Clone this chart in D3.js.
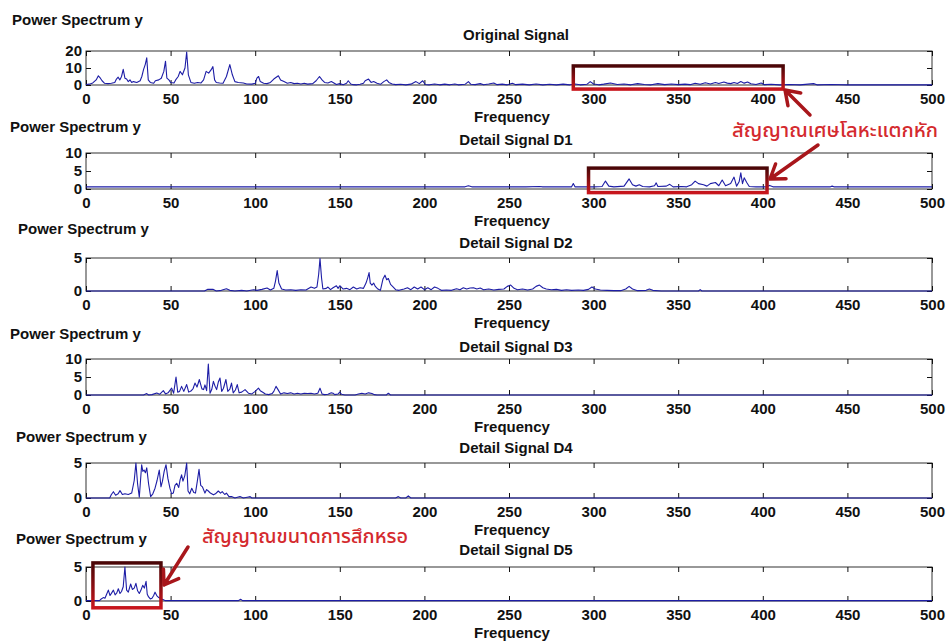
<!DOCTYPE html>
<html>
<head>
<meta charset="utf-8">
<script src="https://cdn.jsdelivr.net/npm/d3@7"></script>
<style>
  body { margin: 0; background: #fff; }
  text { font-family: "Liberation Sans", Arial, sans-serif; font-weight: bold; fill: #111; }
  text.thai { font-family: "Noto Sans Thai", "Noto Sans", "DejaVu Sans", sans-serif; font-weight: 500; fill: #d42a2e; }
</style>
</head>
<body>
<div id="chart"></div>
<script>
// ---- data ----
const freqTicks = [0, 50, 100, 150, 200, 250, 300, 350, 400, 450, 500];
const panelTitles = ['Original Signal', 'Detail Signal D1', 'Detail Signal D2', 'Detail Signal D3', 'Detail Signal D4', 'Detail Signal D5'];
const yMaxes = [20, 10, 5, 10, 5, 5];
const yTickValues = [[0, 10, 20], [0, 5, 10], [0, 5], [0, 5, 10], [0, 5], [0, 5]];

// [frequency, power]
const originalSignal = [[0,0.3],[2,0.5],[4,1.2],[6,3],[7.3,5.4],[8.5,4],[9.5,2.5],[11,1],[13,0.8],[15,1],[17,1.5],[18,3.5],[19,4.6],[20,3],[21,5],[22,9.2],[23,4],[24,3.5],[25,2],[26,3],[27,1.5],[28,2],[30,1.5],[32,2.5],[33,5],[34,9],[35,12],[35.9,16],[36.8,3],[38,1.5],[40,1],[41,2.5],[43,3],[44.5,4],[46,8],[47,14],[47.8,4],[49,3],[50,1.5],[52,1.2],[53,3],[54.5,5],[55.6,8],[57,6],[58.5,10],[59.5,19.4],[60.5,6],[62,1.5],[64,1],[66,1.5],[68,1.2],[69.5,3],[71,8],[72.5,7],[74,9],[75,10.8],[76,3],[77,1.5],[79,1.2],[81,1],[83,5],[85,12],[86.5,6],[88,2],[90,1.5],[93,1.2],[95,0.6],[98,0.5],[100,1],[101,4],[102,5],[103,2],[105,1],[107,0.8],[109,1.5],[111,3.5],[113.7,5.4],[115,3],[117,2],[119,1],[121,1.5],[123,0.8],[125,1],[127,0.6],[129,1],[131,0.5],[134,0.8],[136,2.5],[138,5],[139.5,3],[141,1.5],[143,1.2],[145,2],[146,1.5],[148,0.3],[150,0.8],[152,0.2],[154,1],[155,2.5],[156.5,0.6],[158,0.2],[160,0.1],[162,0.4],[164,1],[165,2.5],[167,3.5],[168.5,1.5],[170,2],[172,1],[174,0.4],[176,2],[177.7,3],[179,1.5],[181,0.6],[183,0.2],[186,0.4],[189,0.1],[192,0.5],[195,2],[197,0.8],[199,2.5],[200.5,0.3],[203,0.1],[206,0.6],[209,0.1],[212,0.5],[215,0.1],[218,0.6],[220,0.1],[224,0.4],[226,2],[227.5,0.4],[230,0.2],[233,0.8],[235,0.1],[238,0.6],[241,1.2],[243,0.2],[246,0.5],[249,0.1],[252,1],[254,0.2],[258,0.5],[262,0.1],[266,0.6],[270,0.1],[274,0.4],[278,0.1],[282,0.5],[286,0.1],[289,0.6],[292,0.1],[296,0.4],[298,2],[300,0.6],[303,0.1],[306,0.5],[310,1.2],[314,0.3],[318,0.6],[322,0.1],[326,0.8],[330,0.3],[334,0.1],[338,0.8],[342,0.2],[346,0.6],[350,0.2],[354,0.5],[357,0.2],[360,1],[363,0.4],[366,1.3],[369,0.6],[372,1.5],[374,0.9],[377,1.8],[379,1.1],[381,0.8],[383,1.5],[385,0.9],[387,2],[389,1.1],[391,1.8],[393,0.7],[396,0.3],[399,1.2],[401,0.2],[405,0.4],[410,0.1],[416,0.3],[422,0.1],[430,0.8],[432,0.1],[440,0.3],[450,0.1],[470,0.1],[500,0.1]];

const detailD1 = [[0,0.6],[100,0.6],[224,0.6],[226,0.9],[228,0.6],[260,0.6],[268,0.7],[270,0.6],[287,0.6],[288,1.5],[289,0.6],[300,0.6],[305,0.7],[307,2.2],[309,0.8],[312,0.6],[318,0.8],[321,2.8],[323,1.2],[325,0.8],[327,1.2],[329,0.7],[333,0.6],[336,0.9],[337,1.7],[338,0.7],[343,0.8],[345,1.3],[347,0.6],[352,0.7],[355,0.6],[358,1.2],[360,2.2],[362,1.5],[365,1.2],[367,0.8],[369,1.5],[372,1.8],[374,0.9],[376,2.5],[378,0.9],[381,1.5],[383,3.3],[384.5,0.8],[386,2],[387,4.5],[388,1.5],[389,3.1],[390.5,1.8],[392,0.7],[396,0.6],[402,0.6],[404,1],[406,0.6],[440,0.6],[441,0.8],[442,0.6],[500,0.6]];

const detailD2 = [[0,0],[70,0],[72,0.25],[75,0.25],[77,0],[80,0.1],[83,0.35],[85,0.1],[88,0],[92,0.1],[95,0],[99,0.2],[101,0.1],[104,0.25],[107,0.45],[109,0.15],[111,0.4],[112,1.5],[113,3.1],[114,1.2],[115.6,0.3],[118,0.15],[121,0.2],[124,0.1],[127,0.2],[130,0.15],[133,0.6],[135,0.4],[136.5,0.6],[137.5,2.5],[138.3,4.9],[139.2,2],[140,0.3],[142,0.4],[143,0.6],[144.5,0.2],[146,0.5],[148,0.8],[149,0.4],[150,0.8],[152,0.3],[154,0.4],[156,0.2],[158,0.6],[160,0.3],[162,0.5],[164,0.4],[165.5,1.2],[166.5,2],[167.3,2.8],[168,1.2],[169,0.9],[170,1.2],[171,0.7],[172.5,0.3],[174,0.1],[175.5,1.8],[176.7,2.4],[177.7,1.7],[178.7,1.9],[180,1],[181.6,0.6],[183,0.2],[185,0.1],[188,0.3],[190,0.5],[192,0.2],[194,0.6],[196,0.3],[198,0.6],[200,0.2],[202,0.5],[204,0.2],[206,0.6],[208,0.4],[210,0.1],[213,0.15],[216,0.1],[219,0.35],[221,0.2],[223,0.5],[225,0.3],[227,0.45],[229,0.5],[231,0.3],[233,0.45],[235,0.2],[238,0.3],[241,0.15],[244,0.25],[247,0.3],[249,0.7],[251,0.9],[253,0.4],[255,0.2],[258,0.3],[261,0.15],[264,0.3],[266,0.7],[268,0.9],[270,0.5],[272,0.3],[275,0.2],[278,0.25],[281,0.1],[284,0.2],[287,0.1],[291,0.15],[294,0.1],[297,0.25],[299,0.6],[301,0.3],[304,0.15],[308,0.1],[312,0.05],[316,0.05],[319,0.3],[321,0.7],[323,0.3],[326,0.05],[331,0.1],[333,0.3],[335,0.1],[340,0],[362,0],[363,0.2],[364,0],[500,0]];

const detailD3 = [[0,0],[34,0],[35.9,0.4],[37,0],[39,0.1],[41.8,0.55],[43.5,0.2],[45.7,1.2],[47,0.3],[48.5,0.6],[50.6,1.9],[51.8,0.5],[53.2,5],[54.2,0.8],[55.3,1],[56.5,2.4],[57.8,1],[59.5,2.9],[60.7,0.8],[62,1.1],[63.3,1.8],[64.4,3.3],[65.6,2.2],[67,4.3],[68.5,1.7],[69.5,1.5],[70.3,2.8],[71.3,1.2],[72.3,8.6],[73.3,0.5],[74.3,1.5],[75.3,3.8],[76.3,2.4],[77.2,1.5],[78.2,3.6],[79.2,4.7],[80.2,1],[81.2,1.8],[82.7,4.3],[83.8,1],[85,1.6],[86,3.3],[87,0.6],[88.3,1.4],[89.4,2.9],[90.5,0.6],[92,0.8],[94,1.5],[96,0.5],[98,0.3],[100,1],[101.9,1.9],[103,1.2],[104.7,0.7],[106,0.3],[108,0.1],[110,0.4],[111,1],[112.3,2.4],[113.5,1.5],[115,0.3],[117,0.6],[119,0.4],[121,0.6],[123,0.3],[125,0.5],[127,0.3],[129,0.5],[131,0.4],[133,0.5],[135,0.3],[137,0.5],[138.3,1.9],[139.5,0.3],[141,0.1],[143,0.2],[145,0.6],[146,0.5],[147,0.1],[149,0.3],[150,0.8],[151,0.2],[153,0],[159,0],[161,0.3],[163,0.5],[165,0.3],[167,0.6],[169,0.4],[170.5,0.1],[172,0],[177.5,0],[178.7,0.5],[180,0],[500,0]];

const detailD4 = [[0,0],[14,0],[15,0.5],[16.2,0.9],[17.5,0.4],[19,0.6],[20.1,1.05],[21.5,0.5],[23,0.6],[25,0.5],[27,0.7],[28.5,2.5],[29.5,5],[30.5,2],[31.5,0.1],[32.9,4.75],[33.6,3.8],[34.3,4],[35.1,3.6],[35.9,4.3],[37,2],[38.2,0.2],[39.5,0.6],[40.8,1.4],[42,2.5],[43.3,4],[44.3,1.6],[45.2,2.4],[46.2,3.8],[47.3,4.75],[48.4,2.8],[49.6,1.4],[50.6,0.6],[51.6,0.7],[52.6,1.8],[53.6,2.1],[54.8,1.5],[55.6,2.6],[56.5,3.3],[57.3,2.4],[58.4,3.2],[59.5,5],[60.3,1],[61.3,0.6],[62.5,1.4],[63.7,0.8],[64.7,0.7],[65.8,2.4],[66.8,4.1],[67.8,1.8],[68.8,1.6],[70.3,0.7],[71.3,1.2],[72.3,1],[73.5,0.7],[75.3,0.45],[76.5,0.6],[78.2,1],[79.5,0.7],[80.5,0.9],[82,0.5],[83,0.7],[84.5,0.2],[86,0.2],[88,0],[90,0.15],[91,0.2],[93,0],[96,0.15],[97,0.2],[98,0],[183,0],[184.6,0.2],[186,0],[189,0],[190.5,0.3],[192,0],[500,0]];

const detailD5 = [[0,0.05],[8,0.05],[9,0.3],[10.2,0.5],[11.2,0.4],[12.2,1],[13.2,1.6],[14.2,0.8],[15.2,1.2],[16.2,1.6],[17.2,0.9],[18.2,1.2],[19.1,1.8],[20.1,1.1],[21,1.4],[22,2.1],[23,5],[24,1.6],[25,1.3],[26.4,2.5],[27.4,1.7],[28.5,1.9],[29.5,2.6],[30.5,1.5],[31.5,1.1],[32.5,1.6],[33.5,2.3],[34.5,1.9],[35.5,2.9],[36.2,1],[37,0.6],[38,0.3],[39,0.4],[40,0.8],[40.8,1.3],[41.8,0.8],[43,0.5],[44.5,0.3],[45.7,0.2],[47,0.05],[90,0.05],[91.4,0.25],[92.5,0.05],[500,0.05]];

const panelSeries = [originalSignal, detailD1, detailD2, detailD3, detailD4, detailD5];

// highlighted regions: [panel index, freq from, freq to, power from, power to]
const highlightBoxes = [[0, 288, 412, -2.4, 11.2], [1, 297, 402.5, -1.0, 5.8], [5, 4.1, 44.3, -1.0, 5.6]];
const debrisLabel = 'สัญญาณเศษโลหะแตกหัก';
const wearLabel = 'สัญญาณขนาดการสึกหรอ';

// ---- layout ----
const width = 949, height = 643;
const plotLeft = 86, plotRight = 932;
const panelLayout = [
  { top: 51,  bottom: 85,  titleY: 35,  ylabX: 12, ylabY: 20 },
  { top: 153, bottom: 189, titleY: 140, ylabX: 10, ylabY: 127 },
  { top: 258, bottom: 291, titleY: 243, ylabX: 18, ylabY: 229 },
  { top: 359, bottom: 395, titleY: 347, ylabX: 10, ylabY: 334 },
  { top: 463, bottom: 498, titleY: 448, ylabX: 16, ylabY: 437 },
  { top: 567, bottom: 601, titleY: 550, ylabX: 16, ylabY: 539 }
];

const svg = d3.select('#chart')
  .append('svg')
  .attr('width', width)
  .attr('height', height);

const defs = svg.append('defs');
const grad = defs.append('linearGradient')
  .attr('id', 'boxGrad')
  .attr('x1', 0).attr('y1', 0).attr('x2', 0).attr('y2', 1);
grad.append('stop').attr('offset', '0%').attr('stop-color', '#4a0607');
grad.append('stop').attr('offset', '100%').attr('stop-color', '#c8161d');

const x = d3.scaleLinear().domain([0, 500]).range([plotLeft, plotRight]);
const yScales = [];

panelSeries.forEach((series, i) => {
  const L = panelLayout[i];
  const y = d3.scaleLinear().domain([0, yMaxes[i]]).range([L.bottom, L.top]);
  yScales.push(y);
  const g = svg.append('g');

  // labels
  g.append('text')
    .attr('x', L.ylabX).attr('y', L.ylabY).attr('dy', '0.35em')
    .attr('font-size', 15)
    .text('Power Spectrum y');

  g.append('text')
    .attr('x', 516).attr('y', L.titleY).attr('dy', '0.35em')
    .attr('text-anchor', 'middle')
    .attr('font-size', 15)
    .text(panelTitles[i]);

  g.append('text')
    .attr('x', 512).attr('y', L.bottom + 32).attr('dy', '0.35em')
    .attr('text-anchor', 'middle')
    .attr('font-size', 15)
    .text('Frequency');

  // frame first, so the spectrum sits on top of the zero line
  g.append('rect')
    .attr('x', plotLeft).attr('y', L.top)
    .attr('width', plotRight - plotLeft).attr('height', L.bottom - L.top)
    .attr('fill', 'none')
    .attr('stroke', '#333')
    .attr('stroke-width', 1);

  // axes (inward ticks, mirrored on top/right)
  const xAxis = g.append('g')
    .attr('transform', `translate(0,${L.bottom})`)
    .call(d3.axisBottom(x).tickValues(freqTicks).tickSize(-5).tickPadding(8));
  g.append('g')
    .attr('transform', `translate(0,${L.top})`)
    .call(d3.axisTop(x).tickValues(freqTicks).tickSize(-5).tickFormat(''));
  const yAxis = g.append('g')
    .attr('transform', `translate(${plotLeft},0)`)
    .call(d3.axisLeft(y).tickValues(yTickValues[i]).tickFormat(d3.format('d')).tickSize(-5).tickPadding(4));
  g.append('g')
    .attr('transform', `translate(${plotRight},0)`)
    .call(d3.axisRight(y).tickValues(yTickValues[i]).tickSize(-5).tickFormat(''));

  g.selectAll('.domain').remove();
  g.selectAll('.tick line').attr('stroke', '#111');
  [xAxis, yAxis].forEach(a => a.selectAll('text')
    .attr('font-size', 15)
    .attr('font-family', '"Liberation Sans", Arial, sans-serif')
    .attr('font-weight', 'bold')
    .attr('fill', '#111'));

  // spectrum line
  g.append('path')
    .datum(series)
    .attr('fill', 'none')
    .attr('stroke', '#1d1da6')
    .attr('stroke-width', 1.1)
    .attr('stroke-linejoin', 'round')
    .attr('d', d3.line().x(d => x(d[0])).y(d => y(d[1])));
});

// ---- annotations ----
const ann = svg.append('g');

highlightBoxes.forEach(([p, f0, f1, v0, v1]) => {
  const y = yScales[p];
  ann.append('rect')
    .attr('x', x(f0)).attr('y', y(v1))
    .attr('width', x(f1) - x(f0)).attr('height', y(v0) - y(v1))
    .attr('fill', 'none')
    .attr('stroke', 'url(#boxGrad)')
    .attr('stroke-width', 3.5);
});

function arrow(tail, tip) {
  const ang = Math.atan2(tail[1] - tip[1], tail[0] - tip[0]);
  const len = 16, spread = 0.6;
  const a1 = [tip[0] + len * Math.cos(ang + spread), tip[1] + len * Math.sin(ang + spread)];
  const a2 = [tip[0] + len * Math.cos(ang - spread), tip[1] + len * Math.sin(ang - spread)];
  ann.append('path')
    .attr('d', `M${tail}L${tip}M${a1}L${tip}L${a2}`)
    .attr('fill', 'none')
    .attr('stroke', '#a8161b')
    .attr('stroke-width', 3.5)
    .attr('stroke-linecap', 'round')
    .attr('stroke-linejoin', 'round');
}

arrow([810, 115], [785, 90]);
arrow([818, 145], [770, 179]);
arrow([188, 547], [164, 585]);

ann.append('text')
  .attr('class', 'thai')
  .attr('x', 732).attr('y', 137)
  .attr('font-size', 20)
  .attr('textLength', 206)
  .attr('lengthAdjust', 'spacingAndGlyphs')
  .text(debrisLabel);

ann.append('text')
  .attr('class', 'thai')
  .attr('x', 202).attr('y', 543)
  .attr('font-size', 20)
  .attr('textLength', 206)
  .attr('lengthAdjust', 'spacingAndGlyphs')
  .text(wearLabel);
</script>
</body>
</html>
